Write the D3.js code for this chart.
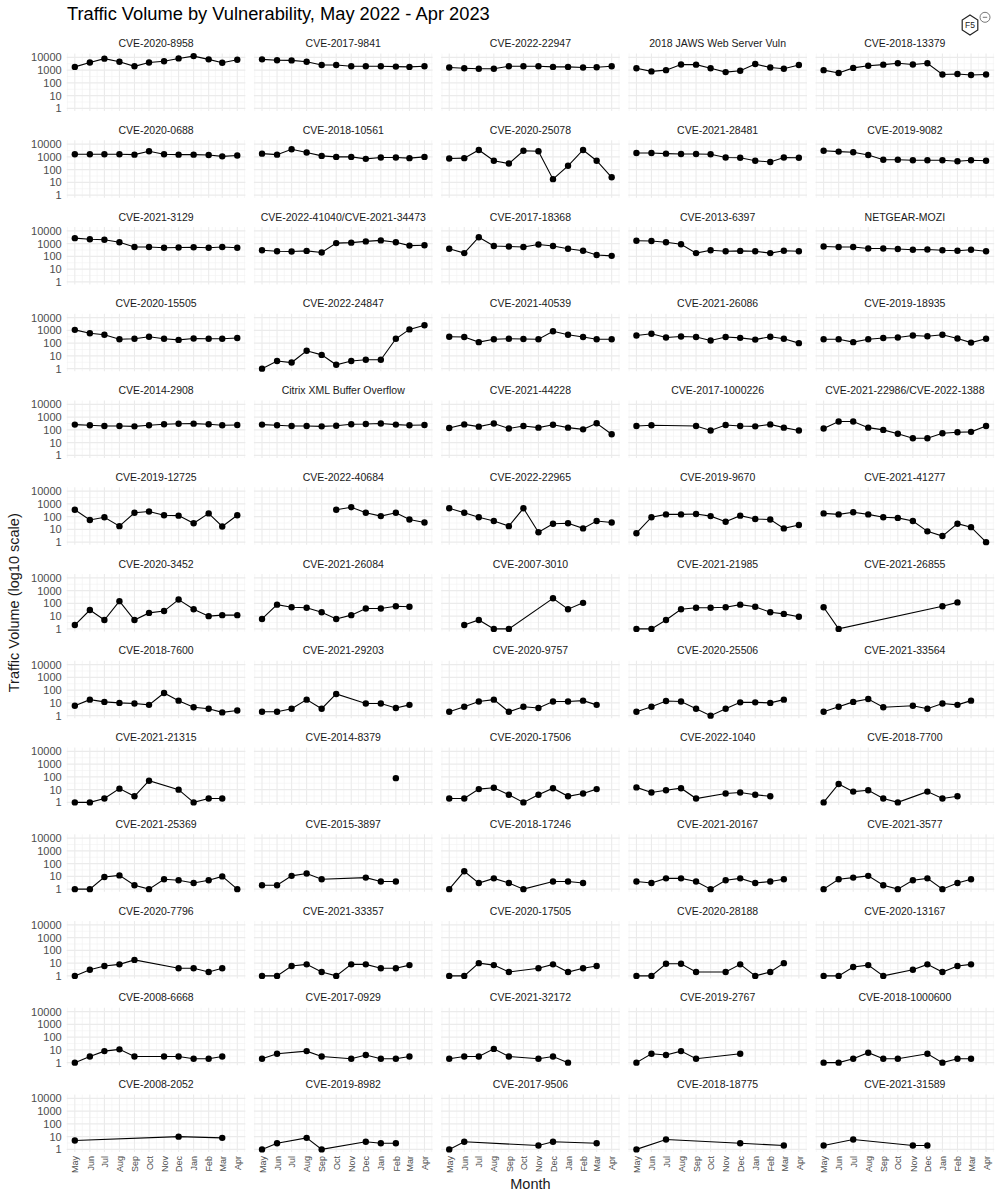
<!DOCTYPE html>
<html>
<head>
<meta charset="utf-8">
<script src="https://cdn.jsdelivr.net/npm/d3@7"></script>
<style>
  body { margin: 0; background: #fff; }
  svg { font-family: "Liberation Sans", Arial, sans-serif; }
</style>
</head>
<body>
<svg id="chart" width="1000" height="1200"></svg>
<script>
// ---------- DATA ----------
const monthLabels = ["May","Jun","Jul","Aug","Sep","Oct","Nov","Dec","Jan","Feb","Mar","Apr"];
const monthDates = monthLabels.map((m, i) => new Date(Date.UTC(2022, 4 + i, 1)));
const yTicks = [1, 10, 100, 1000, 10000];

const cves = [
  "CVE-2020-8958","CVE-2017-9841","CVE-2022-22947","2018 JAWS Web Server Vuln","CVE-2018-13379",
  "CVE-2020-0688","CVE-2018-10561","CVE-2020-25078","CVE-2021-28481","CVE-2019-9082",
  "CVE-2021-3129","CVE-2022-41040/CVE-2021-34473","CVE-2017-18368","CVE-2013-6397","NETGEAR-MOZI",
  "CVE-2020-15505","CVE-2022-24847","CVE-2021-40539","CVE-2021-26086","CVE-2019-18935",
  "CVE-2014-2908","Citrix XML Buffer Overflow","CVE-2021-44228","CVE-2017-1000226","CVE-2021-22986/CVE-2022-1388",
  "CVE-2019-12725","CVE-2022-40684","CVE-2022-22965","CVE-2019-9670","CVE-2021-41277",
  "CVE-2020-3452","CVE-2021-26084","CVE-2007-3010","CVE-2021-21985","CVE-2021-26855",
  "CVE-2018-7600","CVE-2021-29203","CVE-2020-9757","CVE-2020-25506","CVE-2021-33564",
  "CVE-2021-21315","CVE-2014-8379","CVE-2020-17506","CVE-2022-1040","CVE-2018-7700",
  "CVE-2021-25369","CVE-2015-3897","CVE-2018-17246","CVE-2021-20167","CVE-2021-3577",
  "CVE-2020-7796","CVE-2021-33357","CVE-2020-17505","CVE-2020-28188","CVE-2020-13167",
  "CVE-2008-6668","CVE-2017-0929","CVE-2021-32172","CVE-2019-2767","CVE-2018-1000600",
  "CVE-2008-2052","CVE-2019-8982","CVE-2017-9506","CVE-2018-18775","CVE-2021-31589"
];

// monthly traffic volume, May 2022 .. Apr 2023 (null = no traffic recorded)
const _ = null;
const volumes = [
  [1800,4000,8000,4500,2000,4000,5000,8300,12600,7000,3800,6500],
  [7000,6000,5800,4500,2500,2500,2000,2000,2000,1900,1800,2000],
  [1600,1400,1300,1300,2000,2000,2000,1800,1800,1600,1700,2000],
  [1400,800,1000,2800,2700,1400,700,900,3000,1600,1300,2500],
  [1000,600,1500,2200,2700,3500,2800,3500,450,500,420,450],
  [1600,1600,1600,1600,1500,2800,1600,1500,1500,1400,1100,1300],
  [1800,1500,4000,2200,1200,1000,1000,700,900,900,800,1000],
  [750,800,3500,500,300,3000,2800,18,200,3500,500,25],
  [2000,2000,1800,1700,1700,1600,900,850,500,400,900,850],
  [3000,2600,2300,1400,600,600,550,550,550,450,550,500],
  [2700,2200,2000,1300,550,550,480,500,520,480,550,480],
  [300,250,240,270,200,1100,1200,1500,1800,1300,700,750],
  [400,180,3200,650,600,550,850,650,400,280,130,110],
  [1700,1600,1300,900,180,300,250,270,250,180,280,250],
  [600,550,550,420,420,380,330,350,300,280,330,250],
  [1100,600,450,200,220,320,220,180,230,220,220,250],
  [1,4,3,25,12,2,4,5,5,220,1200,2500],
  [320,300,120,200,220,210,200,850,450,300,200,200],
  [400,550,280,330,300,160,300,260,190,320,220,100],
  [200,200,120,200,250,280,400,350,450,230,110,220],
  [260,230,200,200,190,230,280,300,310,280,230,240],
  [260,230,200,200,190,210,280,290,320,260,230,240],
  [140,270,180,320,130,200,150,250,150,110,330,45],
  [200,230,_,_,200,90,240,200,190,270,150,90],
  [130,450,450,150,100,50,22,22,55,65,70,200],
  [350,55,90,18,200,250,130,120,30,180,17,130],
  [_,_,_,_,_,350,550,200,110,200,60,35],
  [450,200,90,45,18,450,6,28,30,12,45,35],
  [5,90,150,150,160,110,40,120,65,60,12,22],
  [180,150,220,150,90,80,45,7,3,28,15,1],
  [2,30,5,150,5,18,25,200,35,10,12,12],
  [6,80,50,45,20,6,12,40,40,60,55,_],
  [_,2,5,1,1,_,_,250,35,110,_,_],
  [1,1,5,35,45,45,50,80,55,20,15,9],
  [50,1,_,_,_,_,_,_,60,120,_,_],
  [6,18,12,10,9,7,60,15,4.5,3.5,1.8,2.5],
  [2,2,3.5,18,3.5,50,_,9,9,4,7,_],
  [2,5,13,18,2,5,4,13,13,15,7,_],
  [2,5,14,13,3.5,1,3.5,11,11,10,18,_],
  [2,5,12,20,4.5,_,6,3.5,9,7,15,_],
  [1,1,2,12,3,50,_,10,1,2,2,_],
  [_,_,_,_,_,_,_,_,_,80,_,_],
  [2,2,11,14,4,1,4,13,3,5,11,_],
  [15,6,9,13,2,_,5,6,4,3,_,_],
  [1,28,7,9,2,1,_,7,2,3,_,_],
  [1,1,9,12,2,1,6,5,3,5,10,1],
  [2,2,11,17,6,_,_,8,4,4,_,_],
  [1,25,3,7,3,1,_,4,4,3,_,_],
  [4,3,7,7,4,1,5,7,3,4,6,_],
  [1,6,8,11,2,1,5,7,1,3,6,_],
  [1,3,6,8,18,_,_,4,4,2,4,_],
  [1,1,6,8,2,1,8,8,4,4,7,_],
  [1,1,10,7,2,_,4,8,2,4,6,_],
  [1,1,9,9,2,_,2,8,1,2,10,_],
  [1,1,5,7,1,_,3,8,2,6,8,_],
  [1,3,8,11,3,_,3,3,2,2,3,_],
  [2,5,_,8,3,_,2,4,2,2,3,_],
  [2,3,3,12,3,_,2,3,1,_,_,_],
  [1,5,4,8,2,_,_,5,_,_,_,_],
  [1,1,2,6,2,2,_,5,1,2,2,_],
  [5,_,_,_,_,_,_,10,_,_,8,_],
  [1,3,_,8,1,_,_,4,3,3,_,_],
  [1,4,_,_,_,_,2,4,_,_,3,_],
  [1,_,6,_,_,_,_,3,_,_,2,_],
  [2,_,6,_,_,_,2,2,_,_,_,_]
];

// ---------- LAYOUT ----------
const nCols = 5;
const panelLeft0 = 66.7, panelW = 178.7, colPitch = 187.2;
const panelTop0 = 53.5, panelH = 57.5, rowPitch = 86.75;
const nRows = Math.ceil(cves.length / nCols);

const svg = d3.select("#chart");

// scales (shared across facets)
const xSpan = monthDates[11] - monthDates[0];
const xScale = d3.scaleUtc()
  .domain([new Date(+monthDates[0] - 0.05 * xSpan), new Date(+monthDates[11] + 0.05 * xSpan)])
  .range([0, panelW]);

const allVals = volumes.flat().filter(v => v != null);
const lmin = Math.log10(d3.min(allVals)), lmax = Math.log10(d3.max(allVals));
const lpad = 0.05 * (lmax - lmin);
const yScale = d3.scaleLog()
  .domain([Math.pow(10, lmin - lpad), Math.pow(10, lmax + lpad)])
  .range([panelH, 0]);

// minor breaks
const xMinor = [];
for (let i = -1; i < 12; i++) {
  const a = i < 0 ? new Date(Date.UTC(2022, 3, 1)) : monthDates[i];
  const b = i < 11 ? monthDates[i + 1] : new Date(Date.UTC(2023, 4, 1));
  xMinor.push(new Date((+a + +b) / 2));
}
const yMinor = [0.5, 1.5, 2.5, 3.5].map(e => Math.pow(10, e));

// ---------- TITLE ----------
svg.append("text")
  .attr("x", 67).attr("y", 20)
  .attr("font-size", 18.3).attr("fill", "#000")
  .text("Traffic Volume by Vulnerability, May 2022 - Apr 2023");

// ---------- LOGO ----------
const logo = svg.append("g").attr("transform", "translate(970,25)");
const hexRx = 7.8, hexRy = 10;
logo.append("path")
  .attr("d", d3.range(6).map(k => {
    const a = -Math.PI / 2 + k * Math.PI / 3;
    return (k ? "L" : "M") + (hexRx * Math.cos(a) / Math.cos(Math.PI / 6)).toFixed(2) + "," + (hexRy * Math.sin(a)).toFixed(2);
  }).join("") + "Z")
  .attr("fill", "#fff").attr("stroke", "#222").attr("stroke-width", 1.2);
logo.append("text").attr("x", 0).attr("y", 3.3).attr("text-anchor", "middle")
  .attr("font-size", 8.5).attr("fill", "#222").text("F5");
logo.append("circle").attr("cx", 15).attr("cy", -7.7).attr("r", 5)
  .attr("fill", "#fff").attr("stroke", "#555").attr("stroke-width", 0.8);
logo.append("line").attr("x1", 12.8).attr("x2", 17.2).attr("y1", -7.7).attr("y2", -7.7)
  .attr("stroke", "#555").attr("stroke-width", 0.8);

// ---------- PANELS ----------
const line = d3.line()
  .defined(d => d.v != null)
  .x(d => xScale(d.date))
  .y(d => yScale(d.v));

cves.forEach((name, idx) => {
  const r = Math.floor(idx / nCols), c = idx % nCols;
  const px = panelLeft0 + c * colPitch;
  const py = panelTop0 + r * rowPitch;
  const g = svg.append("g").attr("transform", `translate(${px},${py})`);

  // minor grid
  g.selectAll(".xminor").data(xMinor.filter(d => xScale(d) >= 0 && xScale(d) <= panelW)).join("line")
    .attr("x1", d => xScale(d)).attr("x2", d => xScale(d))
    .attr("y1", 0).attr("y2", panelH)
    .attr("stroke", "#f2f2f2").attr("stroke-width", 0.6);
  g.selectAll(".yminor").data(yMinor.filter(d => yScale(d) >= 0 && yScale(d) <= panelH)).join("line")
    .attr("x1", 0).attr("x2", panelW)
    .attr("y1", d => yScale(d)).attr("y2", d => yScale(d))
    .attr("stroke", "#f2f2f2").attr("stroke-width", 0.6);
  // major grid
  g.selectAll(".xmajor").data(monthDates).join("line")
    .attr("x1", d => xScale(d)).attr("x2", d => xScale(d))
    .attr("y1", 0).attr("y2", panelH)
    .attr("stroke", "#ebebeb").attr("stroke-width", 1.1);
  g.selectAll(".ymajor").data(yTicks).join("line")
    .attr("x1", 0).attr("x2", panelW)
    .attr("y1", d => yScale(d)).attr("y2", d => yScale(d))
    .attr("stroke", "#ebebeb").attr("stroke-width", 1.1);

  // strip label
  g.append("text")
    .attr("x", panelW / 2).attr("y", -6.5)
    .attr("text-anchor", "middle")
    .attr("font-size", 10.5).attr("fill", "#1a1a1a")
    .text(name);

  const pts = volumes[idx].map((v, i) => ({ date: monthDates[i], v }));
  const present = pts.filter(d => d.v != null);

  g.append("path")
    .datum(present)
    .attr("d", line)
    .attr("fill", "none").attr("stroke", "#000").attr("stroke-width", 1.1);

  g.selectAll("circle.pt").data(present).join("circle")
    .attr("class", "pt")
    .attr("cx", d => xScale(d.date))
    .attr("cy", d => yScale(d.v))
    .attr("r", 3.2).attr("fill", "#000");

  // y axis labels on first column
  if (c === 0) {
    const ya = d3.axisLeft(yScale).tickValues(yTicks).tickFormat(d3.format("d")).tickSize(0).tickPadding(5);
    const ag = g.append("g").call(ya);
    ag.select(".domain").remove();
    ag.selectAll("text").attr("font-size", 11).attr("fill", "#4d4d4d")
      .attr("font-family", "Liberation Sans, Arial, sans-serif");
  }
  // x axis labels on bottom row
  if (r === nRows - 1) {
    const xa = d3.axisBottom(xScale).tickValues(monthDates)
      .tickFormat((d, i) => monthLabels[i]).tickSize(0).tickPadding(0);
    const ag = g.append("g").attr("transform", `translate(0,${panelH})`).call(xa);
    ag.select(".domain").remove();
    ag.selectAll("text")
      .attr("font-size", 9).attr("fill", "#4d4d4d")
      .attr("font-family", "Liberation Sans, Arial, sans-serif")
      .attr("transform", "rotate(-90)")
      .attr("text-anchor", "end")
      .attr("x", -4).attr("y", 0).attr("dy", "0.35em");
  }
});

// ---------- AXIS TITLES ----------
const gridRight = panelLeft0 + (nCols - 1) * colPitch + panelW;
svg.append("text")
  .attr("x", (panelLeft0 + gridRight) / 2).attr("y", 1189)
  .attr("text-anchor", "middle").attr("font-size", 14.5).attr("fill", "#1a1a1a")
  .text("Month");
const gridBottom = panelTop0 + (nRows - 1) * rowPitch + panelH;
svg.append("text")
  .attr("transform", `translate(19,${(panelTop0 + gridBottom) / 2}) rotate(-90)`)
  .attr("text-anchor", "middle").attr("font-size", 14.5).attr("fill", "#1a1a1a")
  .text("Traffic Volume (log10 scale)");
</script>
</body>
</html>
